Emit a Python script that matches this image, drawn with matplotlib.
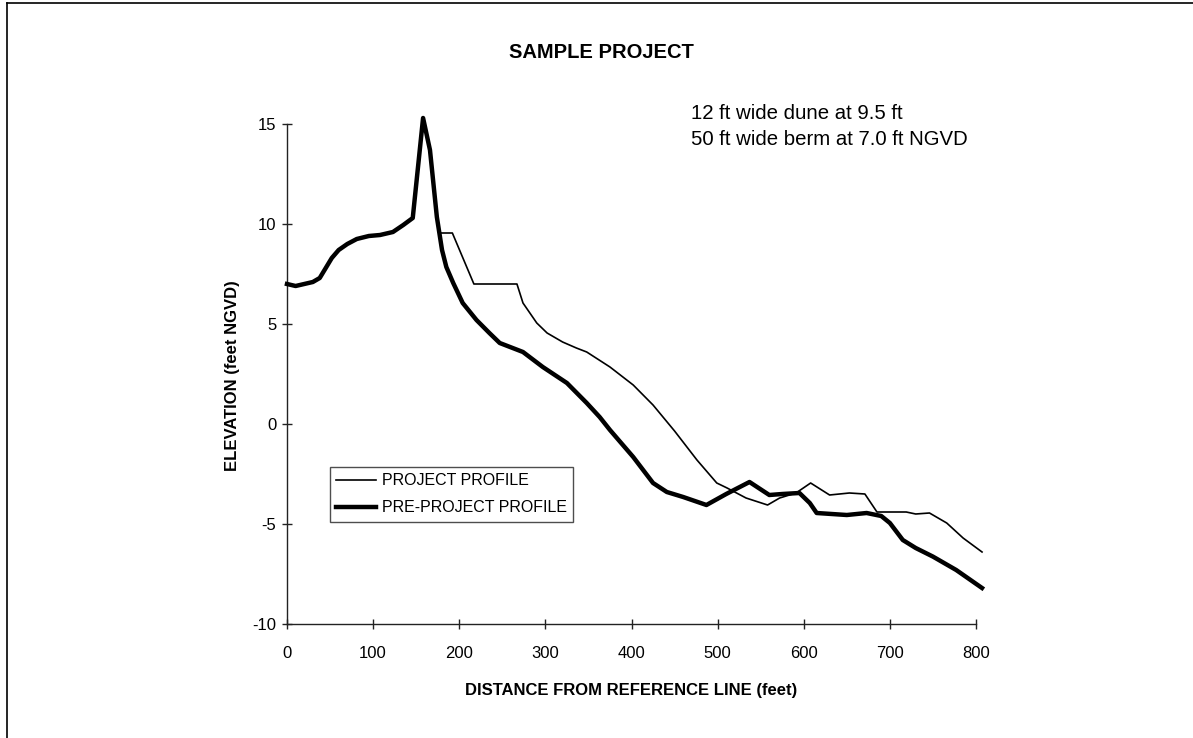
import matplotlib
matplotlib.use("Agg")
import matplotlib.pyplot as plt
from matplotlib.lines import Line2D

plt.rcParams['font.family'] = ['Liberation Sans', 'DejaVu Sans']
plt.rcParams['axes.unicode_minus'] = False

# ---- data ----
pre_x = [0, 10, 20, 30, 38, 45, 52, 60, 70, 81, 95, 108, 123, 135, 146, 158, 166, 174, 180,
         185, 193, 204, 220, 235, 247, 259, 274, 297, 325, 348, 363, 375, 402, 425, 441, 460,
         487, 510, 537, 560, 575, 595, 607, 615, 650, 673, 690, 700, 715, 730, 750, 777, 807]
pre_y = [7.0, 6.9, 7.0, 7.1, 7.3, 7.8, 8.3, 8.7, 9.0, 9.25, 9.4, 9.45, 9.6, 9.95, 10.3, 15.3, 13.7, 10.35, 8.7,
         7.85, 7.05, 6.05, 5.2, 4.55, 4.05, 3.85, 3.6, 2.85, 2.05, 1.05, 0.35, -0.3, -1.65, -2.95, -3.4, -3.65,
         -4.05, -3.5, -2.9, -3.55, -3.5, -3.45, -3.95, -4.45, -4.55, -4.45, -4.6, -4.95, -5.8, -6.2, -6.63, -7.3, -8.2]

proj_x = [0, 10, 20, 30, 38, 45, 52, 60, 70, 81, 95, 108, 123, 135, 146, 158, 166, 174, 177,
          192, 217, 267, 274, 290, 302, 320, 336, 348, 375, 402, 425, 450, 476, 499, 511, 533,
          558, 572, 591, 608, 630, 653, 671, 685, 719, 730, 746, 766, 785, 807]
proj_y = [7.0, 6.9, 7.0, 7.1, 7.3, 7.8, 8.3, 8.7, 9.0, 9.25, 9.4, 9.45, 9.6, 9.95, 10.3, 15.3, 13.7, 10.35, 9.55,
          9.55, 7.0, 7.0, 6.05, 5.05, 4.55, 4.1, 3.8, 3.6, 2.85, 1.95, 0.95, -0.35, -1.8, -2.95, -3.2, -3.7,
          -4.05, -3.7, -3.45, -2.95, -3.55, -3.45, -3.5, -4.4, -4.4, -4.5, -4.45, -4.95, -5.7, -6.4]

x_ticks = [0, 100, 200, 300, 400, 500, 600, 700, 800]
y_ticks = [-10, -5, 0, 5, 10, 15]

W, H = 1193, 738
fig = plt.figure(figsize=(W / 100, H / 100), dpi=100)
fig.patch.set_facecolor('white')

def fx(px):
    return px / W

def fy(py):
    return 1 - py / H

ax = fig.add_axes([fx(287), fy(624), fx(976) - fx(287), fy(124) - fy(624)])
ax.plot(proj_x, proj_y, color='black', lw=1.2, label='PROJECT PROFILE', clip_on=False, zorder=3)
ax.plot(pre_x, pre_y, color='black', lw=3.2, label='PRE-PROJECT PROFILE', clip_on=False, zorder=4)

ax.set_xlim(0, 800)
ax.set_ylim(-10, 15)
ax.set_xticks(x_ticks)
ax.set_yticks(y_ticks)
for s in ['top', 'right']:
    ax.spines[s].set_visible(False)
for s in ['left', 'bottom']:
    ax.spines[s].set_color('#222222')
    ax.spines[s].set_linewidth(1.0)
ax.tick_params(axis='both', direction='inout', length=7.2, width=1.0, color='#222222',
               labelsize=12)
ax.tick_params(axis='x', pad=12.5)
ax.tick_params(axis='y', pad=4)

fig.text(fx(631.5), fy(690), 'DISTANCE FROM REFERENCE LINE (feet)', fontsize=12, fontweight='bold',
         ha='center', va='center')
fig.text(fx(232), fy(376), 'ELEVATION (feet NGVD)', fontsize=12, fontweight='bold',
         ha='center', va='center', rotation=90)

fig.text(fx(601), fy(52), 'SAMPLE PROJECT', fontsize=14.5, fontweight='bold',
         ha='center', va='center')
fig.text(fx(691), fy(119), '12 ft wide dune at 9.5 ft', fontsize=14.7, ha='left', va='baseline')
fig.text(fx(691), fy(145), '50 ft wide berm at 7.0 ft NGVD', fontsize=14.7, ha='left', va='baseline')

leg = ax.legend(loc='upper left', bbox_to_anchor=(fx(330), fy(467)), bbox_transform=fig.transFigure,
                fontsize=11.5, frameon=True, fancybox=False, edgecolor='#222222',
                handlelength=2.5, handletextpad=0.35, borderpad=0.4, labelspacing=0.75,
                borderaxespad=0, handleheight=0.7)
leg.get_frame().set_linewidth(1.0)

# figure border (left and top edges visible)
fig.add_artist(Line2D([fx(7.5), fx(7.5)], [fy(3), 0], transform=fig.transFigure, color='black', lw=1.2))
fig.add_artist(Line2D([fx(7.5), 1], [fy(3), fy(3)], transform=fig.transFigure, color='black', lw=1.2))

fig.savefig('out.png', dpi=100)
